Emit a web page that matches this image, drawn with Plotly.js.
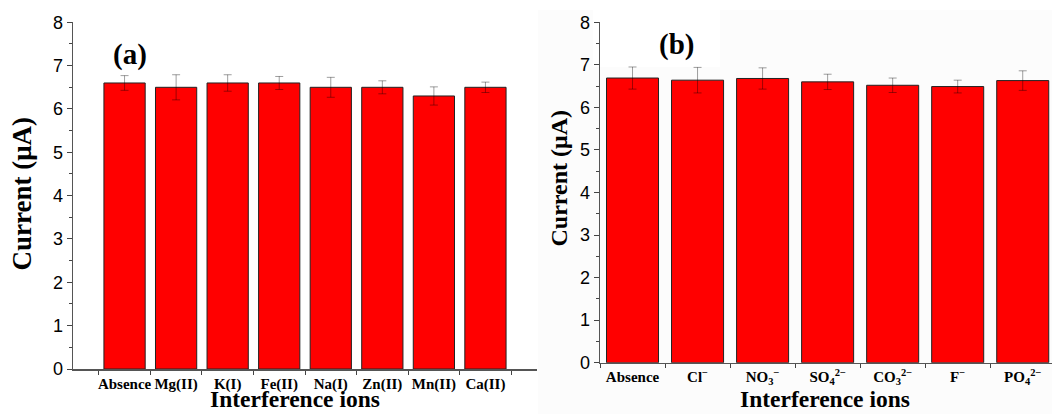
<!DOCTYPE html>
<html>
<head>
<meta charset="utf-8">
<script src="https://cdn.plot.ly/plotly-3.0.1.min.js"></script>
<style>html,body{margin:0;padding:0;background:#fff;}#chart{width:1052px;height:414px;}</style>
</head>
<body>
<div id="chart"></div>
<script>
// Panel (a): metal cations
const catA = ['Absence','Mg(II)','K(I)','Fe(II)','Na(I)','Zn(II)','Mn(II)','Ca(II)'];
const valA = [6.6, 6.5, 6.6, 6.6, 6.5, 6.5, 6.3, 6.5];
const errA = [0.17, 0.29, 0.19, 0.15, 0.23, 0.15, 0.21, 0.12];
// Panel (b): anions
const catB = ['Absence','Cl<sup>−</sup>','NO<sub>3</sub><sup>−</sup>','SO<sub>4</sub><sup>2−</sup>','CO<sub>3</sub><sup>2−</sup>','F<sup>−</sup>','PO<sub>4</sub><sup>2−</sup>'];
const valB = [6.69, 6.64, 6.68, 6.60, 6.52, 6.49, 6.63];
const errB = [0.26, 0.30, 0.25, 0.18, 0.17, 0.15, 0.23];
const yTicks = [0,1,2,3,4,5,6,7,8];

const W = 1052, H = 414;
const px = v => v / W;
const py = v => 1 - v / H;

const barStyle = {color: '#ff0000', line: {color: '#222222', width: 1}};
const errStyle = (arr) => ({type: 'data', array: arr, visible: true, color: 'rgba(0,0,0,0.38)', thickness: 1, width: 4});

const data = [
  {type: 'bar', x: catA, y: valA, error_y: errStyle(errA), marker: barStyle, xaxis: 'x', yaxis: 'y', hoverinfo: 'x+y'},
  {type: 'bar', x: catB, y: valB, error_y: errStyle(errB), marker: barStyle, xaxis: 'x2', yaxis: 'y2', hoverinfo: 'x+y'}
];

const tickFontX = {family: 'Liberation Serif, Times New Roman, serif', size: 15, color: '#000', weight: 'bold'};
const tickFontY = {family: 'Liberation Sans, Arial, sans-serif', size: 18, color: '#000'};

function xAxis(domain, range, anchor) {
  return {
    domain: domain, range: range, anchor: anchor, type: 'category',
    tickson: 'boundaries', ticks: 'outside', ticklen: 4, tickwidth: 1, tickcolor: '#444',
    tickangle: 0, automargin: false,
    showline: true, linecolor: '#555', linewidth: 1.5, showgrid: false, zeroline: false,
    tickfont: tickFontX, fixedrange: true
  };
}
function yAxis(domain, anchor) {
  return {
    domain: domain, range: [0, 8], anchor: anchor, automargin: false,
    tickvals: yTicks, ticks: 'outside', ticklen: 5, tickwidth: 1, tickcolor: '#444',
    minor: {dtick: 0.5, ticks: 'outside', ticklen: 3, tickcolor: '#444', showgrid: false},
    showline: true, linecolor: '#555', linewidth: 1.5, showgrid: false, zeroline: false,
    tickfont: tickFontY, fixedrange: true
  };
}

const titleFont = (s) => ({family: 'Liberation Serif, Times New Roman, serif', size: s, color: '#000', weight: 'bold'});

const layout = {
  width: W, height: H,
  margin: {l: 0, r: 0, t: 0, b: 0},
  paper_bgcolor: '#ffffff', plot_bgcolor: 'rgba(0,0,0,0)',
  showlegend: false, bargap: 0.2,
  xaxis: xAxis([px(73), px(537)], [-1, 8], 'y'),
  yaxis: yAxis([py(369), py(22.3)], 'x'),
  xaxis2: xAxis([px(600), 1], [-0.5, 6.45], 'y2'),
  yaxis2: yAxis([py(362.7), py(22.3)], 'x2'),
  shapes: [
    {type: 'rect', xref: 'paper', yref: 'paper', x0: px(538), x1: 1, y0: 0, y1: py(10), fillcolor: '#fcfcfc', line: {width: 0}, layer: 'below'},
    {type: 'rect', xref: 'paper', yref: 'paper', x0: px(593), x1: px(720), y0: py(67), y1: py(10), fillcolor: '#ffffff', line: {width: 0}, layer: 'below'}
  ],
  annotations: [
    {text: '(a)', xref: 'paper', yref: 'paper', x: px(129.6), y: py(54), xanchor: 'center', yanchor: 'middle', showarrow: false, font: titleFont(29)},
    {text: '(b)', xref: 'paper', yref: 'paper', x: px(676.7), y: py(44.2), xanchor: 'center', yanchor: 'middle', showarrow: false, font: titleFont(29)},
    {text: 'Current (μA)', xref: 'paper', yref: 'paper', x: px(21), y: py(193.5), textangle: -90, xanchor: 'center', yanchor: 'middle', showarrow: false, font: titleFont(27)},
    {text: 'Current (μA)', xref: 'paper', yref: 'paper', x: px(558.5), y: py(179), textangle: -90, xanchor: 'center', yanchor: 'middle', showarrow: false, font: titleFont(24)},
    {text: 'Interference ions', xref: 'paper', yref: 'paper', x: px(295), y: py(399), xanchor: 'center', yanchor: 'middle', showarrow: false, font: titleFont(23.5)},
    {text: 'Interference ions', xref: 'paper', yref: 'paper', x: px(825), y: py(399), xanchor: 'center', yanchor: 'middle', showarrow: false, font: titleFont(23.5)}
  ]
};

Plotly.newPlot('chart', data, layout, {displayModeBar: false, staticPlot: true});
</script>
</body>
</html>
